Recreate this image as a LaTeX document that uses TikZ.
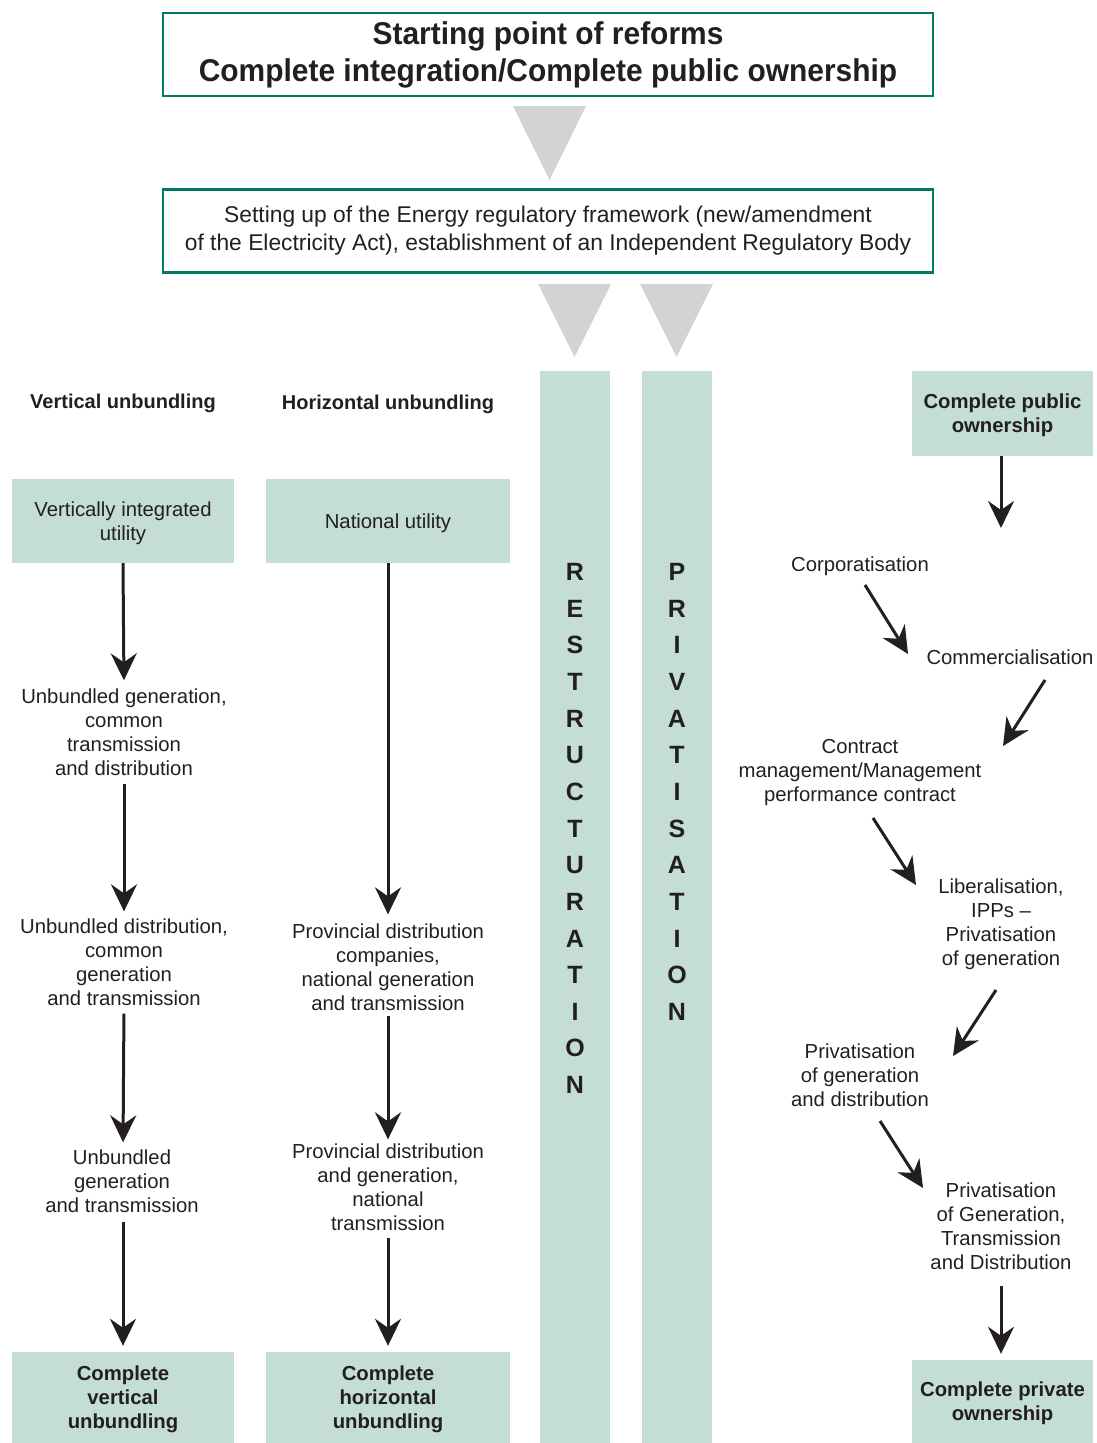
\documentclass[tikz,border=0pt]{standalone}
\usepackage{fontspec}
\setmainfont{Liberation Sans}
\newfontfamily\titlefont[FakeStretch=0.95]{Liberation Sans}
\usetikzlibrary{arrows.meta}
\definecolor{frameteal}{RGB}{0,122,100}
\definecolor{barfill}{RGB}{196,221,213}
\definecolor{trigray}{RGB}{209,211,212}
\definecolor{ink}{RGB}{35,31,32}
\tikzset{
  framebox/.style={draw=frameteal, line width=2.6pt, fill=white, inner sep=0pt, align=center, text=ink},
  greenbox/.style={fill=barfill, inner sep=0pt, align=center, text=ink, text depth=0pt},
  txt/.style={inner sep=0pt, align=center, text=ink, font=\fontsize{20.3}{24}\selectfont},
  boldtxt/.style={inner sep=0pt, align=center, text=ink, font=\fontsize{20}{24}\selectfont\bfseries},
  letter/.style={inner sep=0pt, text=ink, font=\fontsize{25}{25}\selectfont\bfseries},
  arr/.style={draw=ink, line width=3pt, -{Stealth[length=27pt,width=26pt,inset=9pt]}},
  tri/.style={fill=trigray}
}
\begin{document}
\begin{tikzpicture}[x=1pt,y=-1pt]
\useasboundingbox (0,0) rectangle (1096,1443);

% top boxes
\node[framebox, minimum width=770, minimum height=83,
      font=\titlefont\bfseries\fontsize{31.5}{37}\selectfont] (start) at (548,54.5)
  {Starting point of reforms\\Complete integration/Complete public ownership};
\fill[tri] (513,106) -- (586,106) -- (549.5,180) -- cycle;
\node[framebox, minimum width=770, minimum height=83,
      font=\fontsize{22.8}{28}\selectfont] (frame) at (548,231)
  {Setting up of the Energy regulatory framework (new/amendment\\of the Electricity Act), establishment of an Independent Regulatory Body};
\fill[tri] (538,284) -- (611,284) -- (574.5,357) -- cycle;
\fill[tri] (640,284) -- (713,284) -- (676.5,357) -- cycle;

% bars
\node[greenbox, minimum width=70, minimum height=1072] (restr) at (575,907) {};
\node[greenbox, minimum width=70, minimum height=1072] (priv) at (677,907) {};
\foreach \l [count=\i from 0] in {R,E,S,T,R,U,C,T,U,R,A,T,I,O,N}
  \node[letter] (rs\i) at (575,{572+36.64*\i}) {\l};
\foreach \l [count=\i from 0] in {P,R,I,V,A,T,I,S,A,T,I,O,N}
  \node[letter] (pv\i) at (677,{572+36.64*\i}) {\l};

% headers
\node[boldtxt] (vh) at (123,403) {Vertical unbundling};
\node[boldtxt] (hh) at (388,404) {Horizontal unbundling};

% vertical column
\node[greenbox, minimum width=222, minimum height=84, font=\fontsize{20.3}{24}\selectfont] (vb1) at (123,521) {Vertically integrated\\utility};
\node[txt] (v1) at (124,732) {Unbundled generation,\\common\\transmission\\and distribution};
\node[txt] (v2) at (124,962) {Unbundled distribution,\\common\\generation\\and transmission};
\node[txt] (v3) at (122,1181) {Unbundled\\generation\\and transmission};
\node[greenbox, minimum width=222, minimum height=91, font=\fontsize{20.3}{24}\selectfont\bfseries] (vb2) at (123,1397.5) {Complete\\vertical\\unbundling};
\draw[arr, shorten >=8pt] (vb1.south) -- (v1.north);
\draw[arr, shorten <=8pt, shorten >=7pt] (v1.south) -- (v2.north);
\draw[arr, shorten <=8pt, shorten >=7pt] (v2.south) -- (vb1.south |- v3.north);
\draw[arr, shorten <=9pt, shorten >=6pt] (vb1.south |- v3.south) -- (vb2.north);

% horizontal column
\node[greenbox, minimum width=244, minimum height=84, font=\fontsize{20.3}{24}\selectfont] (hb1) at (388,521) {National utility};
\node[txt] (h1) at (388,967) {Provincial distribution\\companies,\\national generation\\and transmission};
\node[txt] (h2) at (388,1187) {Provincial distribution\\and generation,\\national\\transmission};
\node[greenbox, minimum width=244, minimum height=91, font=\fontsize{20.3}{24}\selectfont\bfseries] (hb2) at (388,1397.5) {Complete\\horizontal\\unbundling};
\draw[arr, shorten >=9pt] (hb1.south) -- (h1.north);
\draw[arr, shorten <=5pt, shorten >=4pt] (h1.south) -- (h2.north);
\draw[arr, shorten <=7pt, shorten >=6pt] (h2.south) -- (hb2.north);

% right column
\node[greenbox, minimum width=181, minimum height=85, font=\fontsize{20.3}{24}\selectfont\bfseries] (pub) at (1002.5,413.5) {Complete public\\ownership};
\coordinate (pubend) at (1001,528);
\draw[arr] (pub.south -| pubend) -- (pubend);

\node[txt] (corp) at (860,566) {Corporatisation};
\node[txt] (comm) at (1010,657) {Commercialisation};
\node[txt] (contr) at (860,773) {Contract\\management/Management\\performance contract};
\node[txt] (lib) at (1001,924) {Liberalisation,\\IPPs –\\Privatisation\\of generation};
\node[txt] (pgd) at (860,1075) {Privatisation\\of generation\\and distribution};
\node[txt] (pgtd) at (1001,1226) {Privatisation\\of Generation,\\Transmission\\and Distribution};
\node[greenbox, minimum width=181, minimum height=83, font=\fontsize{20.3}{24}\selectfont\bfseries] (prv) at (1002.5,1401.5) {Complete private\\ownership};

\coordinate (d1s) at (865,585);  \coordinate (d1e) at (908,654);
\coordinate (d2s) at (1045,680); \coordinate (d2e) at (1003,746);
\coordinate (d3s) at (873,818);  \coordinate (d3e) at (916,885);
\coordinate (d4s) at (996,990);  \coordinate (d4e) at (953,1056);
\coordinate (d5s) at (880,1121); \coordinate (d5e) at (923,1188);
\coordinate (d6s) at (1001,1286);
\draw[arr] (d1s) -- (d1e);
\draw[arr] (d2s) -- (d2e);
\draw[arr] (d3s) -- (d3e);
\draw[arr] (d4s) -- (d4e);
\draw[arr] (d5s) -- (d5e);
\draw[arr, shorten >=6pt] (d6s) -- (d6s |- prv.north);
\end{tikzpicture}
\end{document}
